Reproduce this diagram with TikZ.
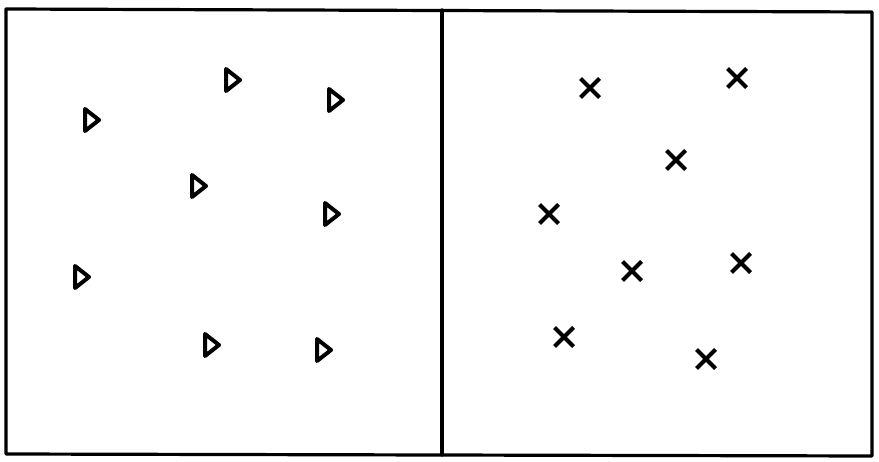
\documentclass[tikz,border=0pt]{standalone}
\usetikzlibrary{shapes.misc}
\begin{document}
\begin{tikzpicture}[x=1pt,y=-1pt,
  frame/.style={line width=3.2pt,line cap=round,line join=round},
  tri/.style={line width=4pt,line join=round},
  xmark/.style={draw,cross out,inner sep=0pt,minimum size=15pt,line width=4pt}]
\useasboundingbox (0,0) rectangle (879,462);
\fill[white] (0,0) rectangle (879,462);
\coordinate (tl) at (6,9);
\coordinate (tr) at (872,12);
\coordinate (br) at (872,456);
\coordinate (bl) at (6,454);
\coordinate (mt) at (442,10);
\coordinate (mb) at (442,455);
\draw[frame] (tl) -- (tr) -- (br) -- (bl) -- cycle;
\draw[frame] (mt) -- (mb);
% triangles
\coordinate (t1) at (91,120);
\coordinate (t2) at (232,80);
\coordinate (t3) at (335,100);
\coordinate (t4) at (198,186);
\coordinate (t5) at (331,214);
\coordinate (t6) at (81,277);
\coordinate (t7) at (211,345);
\coordinate (t8) at (323,350);
\foreach \t in {t1,t2,t3,t4,t5,t6,t7,t8}
  \draw[tri,shift={(\t)}] (-6,-11) -- (8,0) -- (-6,11) -- cycle;
% crosses
\node[xmark] (c1) at (590,88) {};
\node[xmark] (c2) at (737,78) {};
\node[xmark] (c3) at (676,160) {};
\node[xmark] (c4) at (549,214) {};
\node[xmark] (c5) at (632,271) {};
\node[xmark] (c6) at (741,263) {};
\node[xmark] (c7) at (564,337) {};
\node[xmark] (c8) at (706,359) {};
\end{tikzpicture}
\end{document}
